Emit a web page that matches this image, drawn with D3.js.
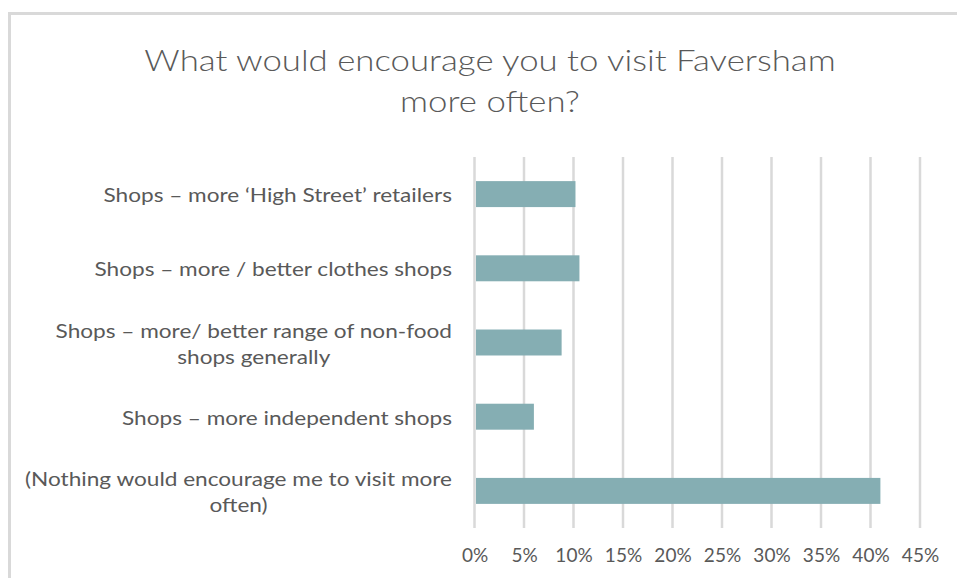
<!DOCTYPE html>
<html>
<head>
<meta charset="utf-8">
<script src="https://cdn.jsdelivr.net/npm/d3@7"></script>
<style>
  html, body { margin: 0; padding: 0; background: #ffffff; }
  svg { display: block; }
  text { font-family: Lato, "Open Sans", sans-serif; fill: #595959; }
</style>
</head>
<body>
<svg id="chart" width="957" height="578"></svg>
<script>
// Survey answers, top to bottom; "\n" marks a wrapped label line
const categories = [
  "Shops \u2013 more \u2018High Street\u2019 retailers",
  "Shops \u2013 more / better clothes shops",
  "Shops \u2013 more/ better range of non-food\nshops generally",
  "Shops \u2013 more independent shops",
  "(Nothing would encourage me to visit more\noften)"
];
const shares = [0.102, 0.106, 0.088, 0.060, 0.410];
const tickValues = [0, 0.05, 0.10, 0.15, 0.20, 0.25, 0.30, 0.35, 0.40, 0.45];
const titleLines = ["What would encourage you to visit Faversham", "more often?"];

const svg = d3.select("#chart");

// Chart frame (only the top and left edges fall inside the view)
svg.append("rect")
  .attr("x", 9.5).attr("y", 13.5)
  .attr("width", 1200).attr("height", 900)
  .attr("fill", "none")
  .attr("stroke", "#d9d9d9")
  .attr("stroke-width", 3);

// Title, widened horizontally about its centre
const titleX = 490;
svg.append("text")
  .attr("text-anchor", "middle")
  .attr("font-size", 29)
  .attr("font-weight", 300)
  .attr("transform", `translate(${titleX},0) scale(1.2,1) translate(${-titleX},0)`)
  .selectAll("tspan")
  .data(titleLines)
  .join("tspan")
  .attr("x", titleX)
  .attr("y", (d, i) => 71 + i * 41)
  .text(d => d);

const x = d3.scaleLinear().domain([0, 0.45]).range([474.5, 920]);
const y = d3.scaleBand().domain(categories).range([157, 528])
  .paddingInner(0.65).paddingOuter(0.325);

// Vertical gridlines
svg.append("g")
  .selectAll("line")
  .data(tickValues)
  .join("line")
  .attr("x1", d => x(d)).attr("x2", d => x(d))
  .attr("y1", 157).attr("y2", 528)
  .attr("stroke", "#d9d9d9")
  .attr("stroke-width", 2.5);

// Bars
svg.append("g")
  .selectAll("rect")
  .data(categories.map((c, i) => ({ c, v: shares[i] })))
  .join("rect")
  .attr("x", x(0) + 1.5)
  .attr("y", d => y(d.c))
  .attr("width", d => x(d.v) - x(0) - 1.5)
  .attr("height", y.bandwidth())
  .attr("fill", "#85aeb3");

// X axis tick labels
const xAxis = d3.axisBottom(x)
  .tickValues(tickValues)
  .tickFormat(d3.format(".0%"))
  .tickSize(0)
  .tickPadding(0);
const gx = svg.append("g")
  .attr("transform", "translate(0,548)")
  .call(xAxis);
gx.select(".domain").remove();
gx.selectAll("text")
  .attr("font-size", 19)
  .attr("fill", "#595959")
  .style("font-family", "Lato, 'Open Sans', sans-serif");

// Category labels, right-aligned and widened; wrapped lines centred on each other
const labelRight = 452;
const lineGap = 26;
const labels = svg.append("g")
  .attr("font-size", 19)
  .attr("transform", `translate(${labelRight},0) scale(1.19,1) translate(${-labelRight},0)`);
categories.forEach(c => {
  const lines = c.split("\n");
  const cy = y(c) + y.bandwidth() / 2;
  const t = labels.append("text").attr("dominant-baseline", "central");
  const spans = lines.map((ln, i) =>
    t.append("tspan")
      .attr("y", cy + (i - (lines.length - 1) / 2) * lineGap)
      .text(ln));
  const widths = spans.map(s => s.node().getComputedTextLength());
  const maxW = d3.max(widths);
  const centre = labelRight - maxW / 2;
  spans.forEach(s => s.attr("x", centre).attr("text-anchor", "middle"));
});
</script>
</body>
</html>
